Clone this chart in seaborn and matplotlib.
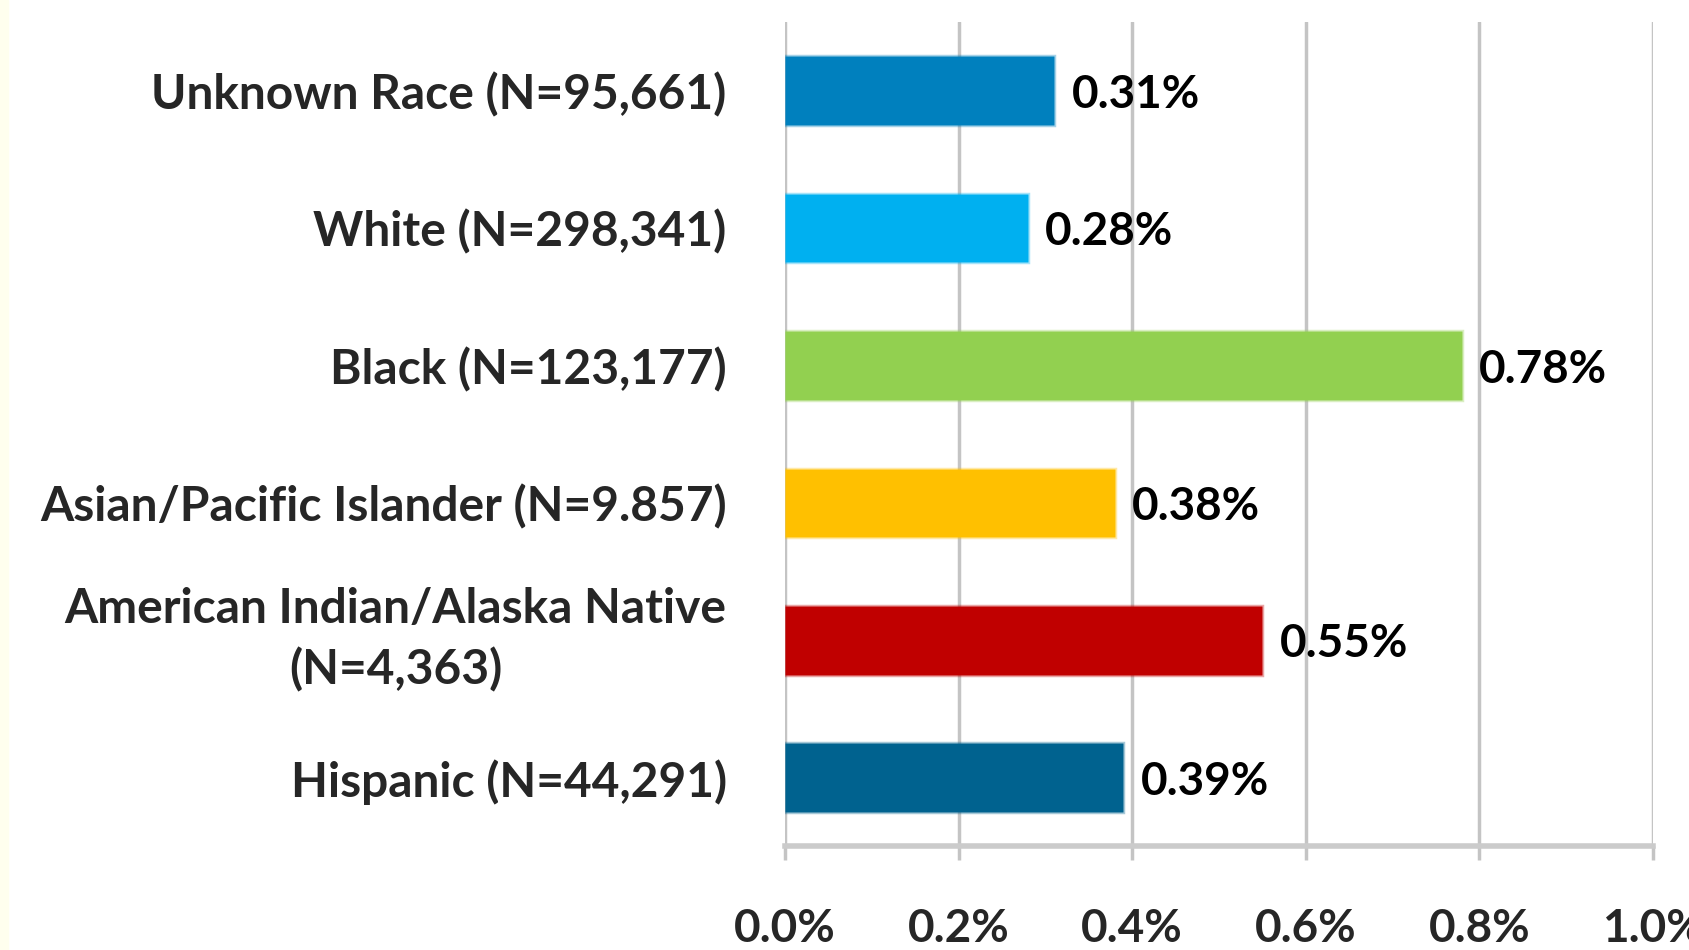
import numpy as np
import pandas as pd
import matplotlib
matplotlib.use("Agg")
import matplotlib.pyplot as plt
import seaborn as sns
from matplotlib.ticker import FuncFormatter
from matplotlib.patches import Rectangle
from matplotlib.transforms import ScaledTranslation

# data
groups = [
    "Unknown Race (N=95,661)",
    "White (N=298,341)",
    "Black (N=123,177)",
    "Asian/Pacific Islander (N=9.857)",
    "American Indian/Alaska Native\n(N=4,363)",
    "Hispanic (N=44,291)",
]
rates = [0.31, 0.28, 0.78, 0.38, 0.55, 0.39]
bar_colors = ["#0080BE", "#00B0F0", "#92D050", "#FFC000", "#C00000", "#00628F"]
x_ticks = [0.0, 0.2, 0.4, 0.6, 0.8, 1.0]

sns.set_style("white")
plt.rcParams["font.family"] = ["Lato", "DejaVu Sans"]

df = pd.DataFrame({"group": groups, "rate": rates})

fig = plt.figure(figsize=(16.9, 9.5), dpi=100)
# faint cream strip on the left edge of the original image
fig.patches.append(Rectangle((0, 0), 8 / 1690, 1, transform=fig.transFigure,
                             color="#FFFFEE", zorder=0))
ax = fig.add_axes([0.4645, 0.109, 0.5135, 0.868])

sns.barplot(data=df, x="rate", y="group", hue="group", palette=bar_colors,
            saturation=1, orient="h", width=0.5, legend=False, ax=ax, zorder=3)

# light outline around each bar, same hue
for patch, c in zip(ax.patches, bar_colors):
    patch.set_edgecolor(matplotlib.colors.to_rgba(c, 0.35))
    patch.set_linewidth(2.5)

for i, v in enumerate(rates):
    ax.text(v + 0.02, i + 0.03, f"{v:.2f}%", va="center", ha="left", fontsize=33,
            fontweight="bold", color="black", zorder=4)

ax.set_xlim(0, 1.0)
ax.set_ylim(5.5, -0.5)
ax.set_xticks(x_ticks)
ax.xaxis.set_major_formatter(FuncFormatter(lambda x, _: f"{x:.1f}%"))
ax.grid(axis="x", color="#C4C4C4", linewidth=2.5, zorder=0)
ax.set_xlabel("")
ax.set_ylabel("")

for s in ["top", "right", "left"]:
    ax.spines[s].set_visible(False)
ax.spines["bottom"].set_color("#CBCBCB")
ax.spines["bottom"].set_linewidth(4)

ax.tick_params(axis="x", length=10, width=2.5, color="#C4C4C4", pad=34,
               labelsize=33, bottom=True)
ax.tick_params(axis="y", length=0, pad=42, labelsize=34.5)
for lbl in ax.get_xticklabels() + ax.get_yticklabels():
    lbl.set_fontweight("bold")
for lbl in ax.get_yticklabels():
    lbl.set_multialignment("center")
    lbl.set_linespacing(1.45)
    if "\n" in lbl.get_text():
        # two-line label sits a little higher in the original
        lbl.set_transform(lbl.get_transform() + ScaledTranslation(0, 0.13, fig.dpi_scale_trans))

fig.savefig("out.png", dpi=100)
